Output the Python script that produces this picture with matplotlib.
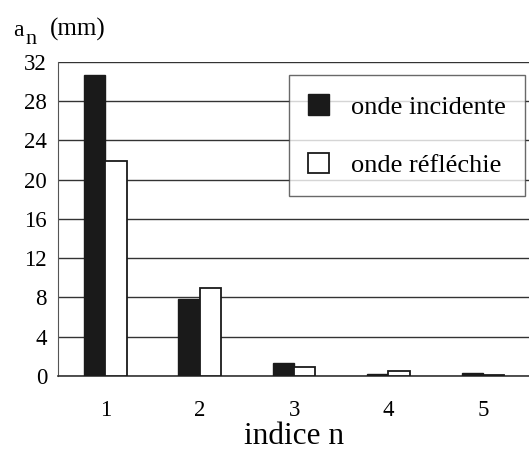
import matplotlib
matplotlib.use("Agg")
import matplotlib.pyplot as plt
from matplotlib.patches import Patch
import numpy as np

plt.rcParams['font.family'] = ['Liberation Serif', 'DejaVu Serif']

indices = [1, 2, 3, 4, 5]
tick_labels = ["1", "2", "3", "4", "5"]
incidente = [30.7, 7.8, 1.3, 0.2, 0.3]
reflechie = [21.9, 9.0, 0.9, 0.5, 0.1]
yticks = [0, 4, 8, 12, 16, 20, 24, 28, 32]

fig = plt.figure(figsize=(5.29, 4.5), dpi=100)
ax = fig.add_axes([0.110, 0.1644, 0.890, 0.698])

x = np.array(indices, dtype=float)
w = 0.225
ax.bar(x - w/2, incidente, width=w, color='#1a1a1a', edgecolor='#1a1a1a', linewidth=1.0, zorder=3)
ax.bar(x + w/2, reflechie, width=w, color='white', edgecolor='#1a1a1a', linewidth=1.3, zorder=3)

ax.set_xlim(0.5, 5.49)
ax.set_ylim(0, 32)
ax.set_yticks(yticks)
ax.set_yticklabels([str(v) for v in yticks], fontsize=16.5)
ax.set_xticks(x)
ax.set_xticklabels(tick_labels, fontsize=16.5)
ax.tick_params(length=0)
ax.tick_params(axis='y', pad=8)
ax.tick_params(axis='x', pad=17)
ax.grid(axis='y', color='#333333', linewidth=1.0, zorder=0)
for s in ['top', 'right']:
    ax.spines[s].set_visible(False)
ax.spines['left'].set_color('#555555')
ax.spines['bottom'].set_color('#333333')
ax.spines['bottom'].set_linewidth(1.2)

ax.set_xlabel("indice n", fontsize=22.5, labelpad=1)

fig.text(13/529, 1 - 36/450, "a", fontsize=17, ha='left', va='baseline')
fig.text(25/529, 1 - 44/450, "n", fontsize=16, ha='left', va='baseline')
fig.text(50/529, 1 - 36/450, "(mm)", fontsize=18, ha='left', va='baseline')

handles = [Patch(facecolor='#1a1a1a', edgecolor='#1a1a1a', label='onde incidente'),
           Patch(facecolor='white', edgecolor='#1a1a1a', linewidth=1.3, label='onde réfléchie')]
leg = ax.legend(handles=handles, loc='upper right', bbox_to_anchor=(0.992, 0.957),
                fontsize=19, frameon=True, fancybox=False, edgecolor='#444444',
                handlelength=0.8, handleheight=0.8, handletextpad=0.85,
                labelspacing=1.3, borderpad=0.72, borderaxespad=0)
leg.get_frame().set_linewidth(1.0)

fig.savefig("out.png", dpi=100)
